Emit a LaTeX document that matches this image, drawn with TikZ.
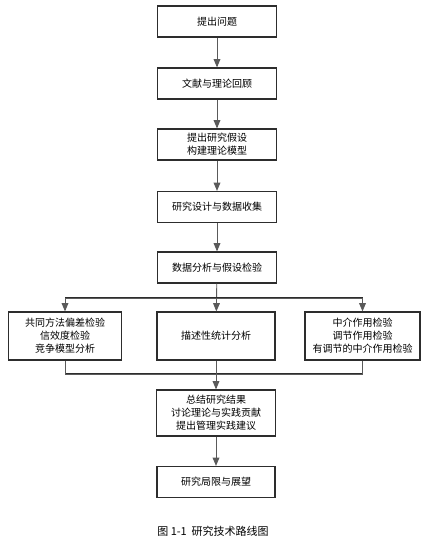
\documentclass[tikz,border=0pt]{standalone}
\usepackage{fontspec}
\setmainfont{Noto Sans CJK SC}
\usetikzlibrary{arrows}
\definecolor{boxline}{RGB}{45, 45, 45}
\definecolor{linkline}{RGB}{90, 90, 90}

\tikzset{
    stagebox/.style={draw=boxline, line width=1.3pt, minimum width=119pt, minimum height=31pt,
                     align=center, font=\fontsize{10}{13}\selectfont, inner sep=2pt},
    sidebox/.style={stagebox, minimum width=113pt, minimum height=48pt},
    link/.style={draw=linkline, line width=0.9pt},
}

\begin{document}
\begin{tikzpicture}[x=1pt, y=-1pt, >=triangle 45]
            \useasboundingbox (0,0) rectangle (438,548);
            % main stages
            \node[stagebox] (s1) at (217, 21.5) {提出问题};
            \node[stagebox] (s2) at (217, 83.5) {文献与理论回顾};
            \node[stagebox] (s3) at (217,144.5) {提出研究假设\\构建理论模型};
            \node[stagebox] (s4) at (217,207.0) {研究设计与数据收集};
            \node[stagebox] (s5) at (217,267.5) {数据分析与假设检验};
            % analysis branches
            \node[sidebox] (left)  at ( 65,336) {共同方法偏差检验\\信效度检验\\竞争模型分析};
            \node[sidebox, minimum width=118pt] (mid) at (216,336) {描述性统计分析};
            \node[sidebox, minimum width=115pt] (right) at (362.5,336) {中介作用检验\\调节作用检验\\有调节的中介作用检验};
            \node[stagebox, minimum height=46pt] (s7) at (216,413) {总结研究结果\\讨论理论与实践贡献\\提出管理实践建议};
            \node[stagebox, minimum width=118pt] (s8) at (216,482) {研究局限与展望};
            \node[font=\fontsize{11}{13}\selectfont] (cap) at (213,531) {图 1-1\ \ 研究技术路线图};
            \coordinate (split) at (217,298);
            \coordinate (join)  at (217,374);
            % connectors
            \draw[link,->] (s1) -- (s2);
            \draw[link,->] (s2) -- (s3);
            \draw[link,->] (s3) -- (s4);
            \draw[link,->] (s4) -- (s5);
            \draw[link,->] (s5) -- (mid);
            \draw[link,line width=1.3pt,draw=boxline] (left.north |- split) -- (right.north |- split);
            \draw[link,->] (split) -| (left);
            \draw[link,->] (split) -| (right);
            \draw[link,line width=1.3pt,draw=boxline] (left.south |- join) -- (right.south |- join);
            \draw[link] (left) |- (join);
            \draw[link] (right) |- (join);
            \draw[link,->] (mid) -- (s7);
            \draw[link,->] (s7) -- (s8);
        \end{tikzpicture}
\end{document}
